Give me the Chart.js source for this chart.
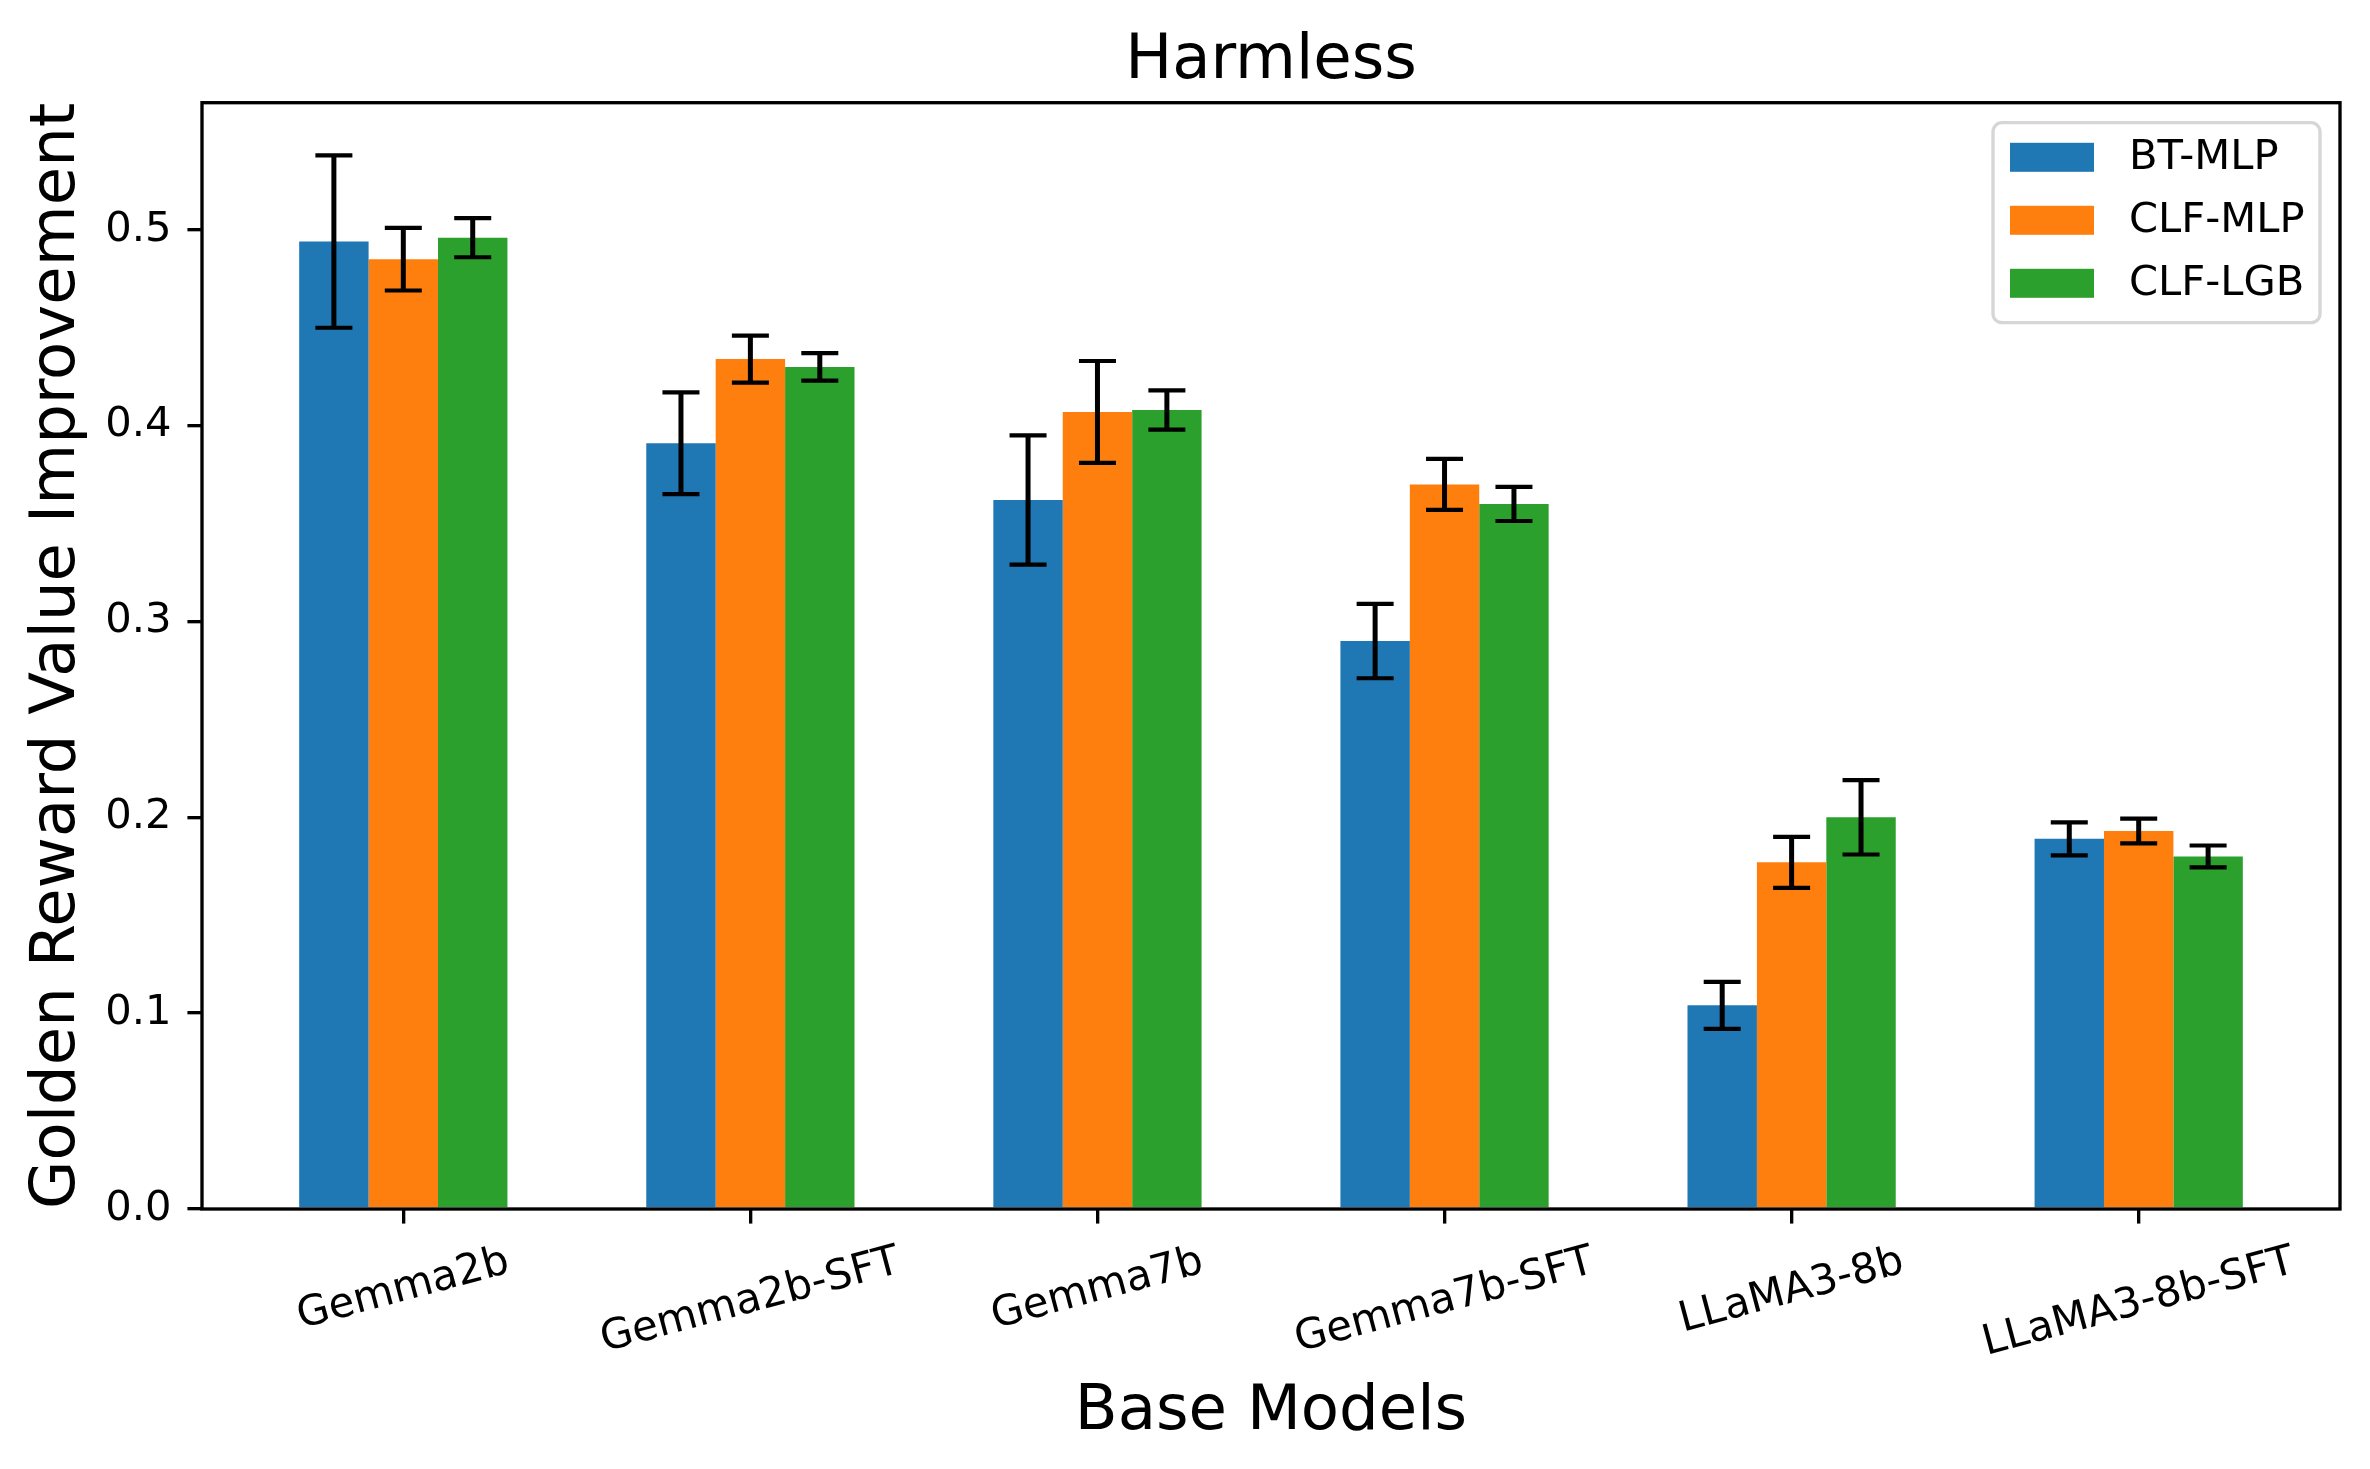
<!DOCTYPE html>
<html>
<head>
<meta charset="utf-8">
<title>Harmless</title>
<script src="https://cdn.jsdelivr.net/npm/chart.js@4.4.1/dist/chart.umd.min.js"></script>
<style>
  html, body { margin: 0; padding: 0; background: #fff; }
  #wrap { width: 2370px; height: 1469px; }
</style>
</head>
<body>
<div id="wrap"><canvas id="harmlessChart" width="2370" height="1469"></canvas></div>
<script>
// data
const categories = ['Gemma2b', 'Gemma2b-SFT', 'Gemma7b', 'Gemma7b-SFT', 'LLaMA3-8b', 'LLaMA3-8b-SFT'];
const seriesNames = ['BT-MLP', 'CLF-MLP', 'CLF-LGB'];
const btMlp  = [0.494, 0.391, 0.362, 0.290, 0.104, 0.189];
const clfMlp = [0.485, 0.434, 0.407, 0.370, 0.177, 0.193];
const clfLgb = [0.496, 0.430, 0.408, 0.360, 0.200, 0.180];
const btMlpErr  = [0.044, 0.026, 0.033, 0.019, 0.012, 0.0084];
const clfMlpErr = [0.016, 0.012, 0.026, 0.013, 0.013, 0.0063];
const clfLgbErr = [0.010, 0.007, 0.010, 0.0087, 0.019, 0.0056];
const yTickStep = 0.1;

const colors = ['#1f77b4', '#ff7f0e', '#2ca02c'];
const FONT = "'DejaVu Sans', sans-serif";
const S = 300 / 72; // points -> px at 300 dpi

function points(values) {
    return values.map((v, i) => ({ x: i, y: v }));
}

const allValues = [btMlp, clfMlp, clfLgb];
const allErrs = [btMlpErr, clfMlpErr, clfLgbErr];

// matplotlib style autoscale (5% margins)
const yTop = Math.max(...allValues.flatMap((vals, k) => vals.map((v, i) => v + allErrs[k][i])));
const yMax = yTop * 1.05;
const xMin = -0.3 - 0.05 * (categories.length - 1 + 0.6);
const xMax = categories.length - 1 + 0.3 + 0.05 * (categories.length - 1 + 0.6);

// error bars
const errorBars = {
    id: 'errorBars',
    afterDatasetsDraw(chart) {
        const ctx = chart.ctx;
        const y = chart.scales.y;
        ctx.save();
        ctx.strokeStyle = '#000';
        ctx.lineCap = 'butt';
        chart.data.datasets.forEach((ds, di) => {
            const meta = chart.getDatasetMeta(di);
            meta.data.forEach((bar, i) => {
                const v = ds.data[i].y;
                const e = ds.errors[i];
                const yHi = y.getPixelForValue(v + e);
                const yLo = y.getPixelForValue(v - e);
                ctx.lineWidth = 1.2 * S;
                ctx.beginPath();
                ctx.moveTo(bar.x, yHi);
                ctx.lineTo(bar.x, yLo);
                ctx.stroke();
                ctx.lineWidth = 1.0 * S;
                ctx.beginPath();
                ctx.moveTo(bar.x - 18.5, yHi);
                ctx.lineTo(bar.x + 18.5, yHi);
                ctx.moveTo(bar.x - 18.5, yLo);
                ctx.lineTo(bar.x + 18.5, yLo);
                ctx.stroke();
            });
        });
        ctx.restore();
    }
};

// axes frame, rotated category labels and legend box
const decorations = {
    id: 'decorations',
    afterDraw(chart) {
        const ctx = chart.ctx;
        const a = chart.chartArea;
        const x = chart.scales.x;
        ctx.save();

        // frame
        ctx.strokeStyle = '#000';
        ctx.lineWidth = 0.8 * S;
        ctx.strokeRect(a.left, a.top, a.right - a.left, a.bottom - a.top);

        // category labels, rotated 15deg, centred on the tick
        ctx.font = `${10 * S}px ${FONT}`;
        ctx.fillStyle = '#000';
        ctx.textAlign = 'center';
        ctx.textBaseline = 'middle';
        const rot = 15 * Math.PI / 180;
        const h = 10 * S * 1.16;
        categories.forEach((label, i) => {
            const w = ctx.measureText(label).width;
            const bh = w * Math.sin(rot) + h * Math.cos(rot);
            const cx = x.getPixelForValue(i);
            const cy = a.bottom + 3.5 * S + 3.5 * S + bh / 2;
            ctx.save();
            ctx.translate(cx, cy);
            ctx.rotate(-rot);
            ctx.fillText(label, 0, 0);
            ctx.restore();
        });

        // legend
        const lx = a.right - 347, ly = a.top + 20, lw = 327, lh = 200;
        ctx.beginPath();
        ctx.roundRect(lx, ly, lw, lh, 9);
        ctx.fillStyle = 'rgba(255,255,255,0.8)';
        ctx.fill();
        ctx.strokeStyle = '#d6d6d6';
        ctx.lineWidth = 0.8 * S;
        ctx.stroke();
        ctx.textAlign = 'left';
        chart.data.datasets.forEach((ds, i) => {
            const ry = ly + 34.6 + i * 63;
            ctx.fillStyle = ds.backgroundColor;
            ctx.fillRect(lx + 17, ry - 14.5, 84, 29);
            ctx.fillStyle = '#000';
            ctx.fillText(ds.label, lx + 136, ry + 1);
        });
        ctx.restore();
    }
};

const ctx = document.getElementById('harmlessChart').getContext('2d');
const harmlessChart = new Chart(ctx, {
    type: 'bar',
    data: {
        datasets: seriesNames.map((name, k) => ({
            label: name,
            data: points(allValues[k]),
            errors: allErrs[k],
            backgroundColor: colors[k],
            borderWidth: 0,
            categoryPercentage: 0.6,
            barPercentage: 1.0
        }))
    },
    options: {
        responsive: false,
        devicePixelRatio: 1,
        animation: false,
        layout: { padding: { left: 0, right: 30, top: 0, bottom: 0 } },
        plugins: {
            legend: { display: false },
            tooltip: { enabled: false },
            title: {
                display: true,
                fullSize: false,
                text: 'Harmless',
                color: '#000',
                font: { family: FONT, size: 15 * S, weight: 'normal', lineHeight: 1.2 },
                padding: { top: 24.5, bottom: 3.2 }
            }
        },
        scales: {
            x: {
                type: 'linear',
                min: xMin,
                max: xMax,
                offset: false,
                afterFit(scale) { scale.height = 260; },
                ticks: {
                    display: false,
                    stepSize: 1,
                    includeBounds: false
                },
                grid: {
                    offset: false,
                    drawOnChartArea: false,
                    drawTicks: true,
                    tickLength: 3.5 * S,
                    color: '#000',
                    lineWidth: 0.8 * S
                },
                border: { display: false },
                title: {
                    display: true,
                    text: 'Base Models',
                    color: '#000',
                    font: { family: FONT, size: 15 * S, lineHeight: 1.2 },
                    padding: { top: 0, bottom: 18.5 }
                }
            },
            y: {
                min: 0,
                max: yMax,
                afterFit(scale) { scale.width = 202; },
                ticks: {
                    stepSize: yTickStep,
                    includeBounds: false,
                    color: '#000',
                    padding: 16,
                    font: { family: FONT, size: 10 * S },
                    callback: v => v.toFixed(1)
                },
                grid: {
                    drawOnChartArea: false,
                    drawTicks: true,
                    tickLength: 3.5 * S,
                    color: '#000',
                    lineWidth: 0.8 * S
                },
                border: { display: false },
                title: {
                    display: true,
                    text: 'Golden Reward Value Improvement',
                    color: '#000',
                    font: { family: FONT, size: 15 * S, lineHeight: 1.2 },
                    padding: { top: 20.5, bottom: 0 }
                }
            }
        }
    },
    plugins: [errorBars, decorations]
});
</script>
</body>
</html>
